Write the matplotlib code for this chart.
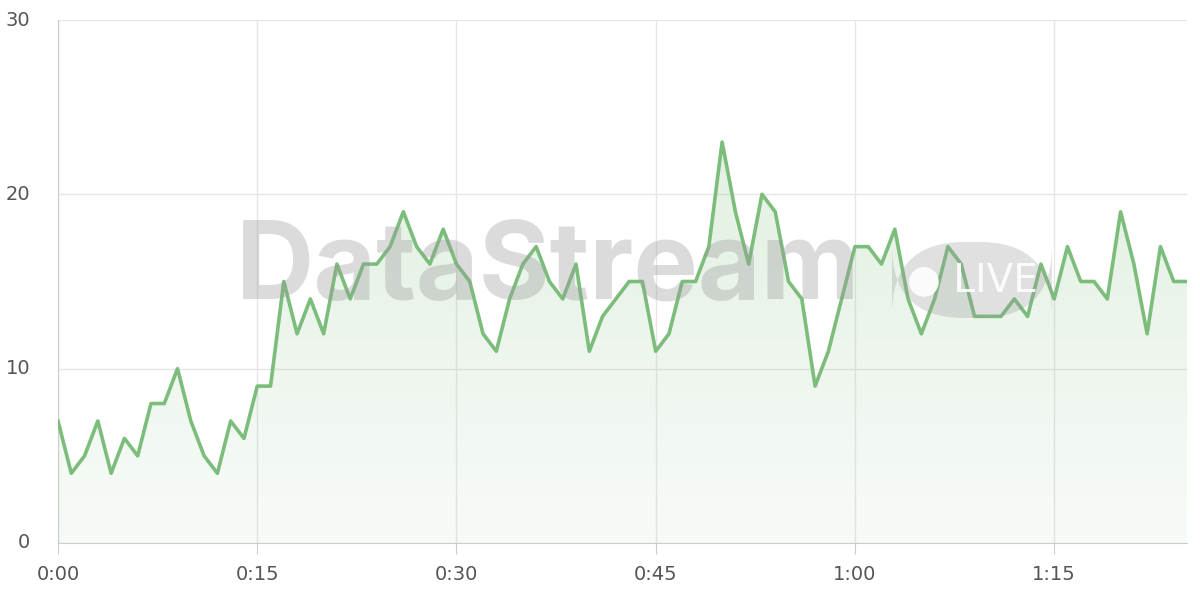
import matplotlib
matplotlib.use("Agg")
import matplotlib.pyplot as plt
import numpy as np
from matplotlib.patches import Polygon, FancyBboxPatch

values = [7,4,5,7,4,6,5,8,8,10,7,5,4,7,6,9,9,15,12,14,12,16,14,16,16,17,19,17,16,18,
          16,15,12,11,14,16,17,15,14,16,11,13,14,15,15,11,12,15,15,17,23,19,16,20,19,15,14,9,11,14,
          17,17,16,18,14,12,14,17,16,13,13,13,14,13,16,14,17,15,15,14,19,16,12,17,15,15]
minutes = list(range(len(values)))
xtick_pos = [0, 15, 30, 45, 60, 75]
xtick_labels = ["0:00", "0:15", "0:30", "0:45", "1:00", "1:15"]
yticks = [0, 10, 20, 30]

fig = plt.figure(figsize=(12, 6), dpi=100)
ax = fig.add_axes([58/1200, 57/600, (1187-58)/1200, (543-20)/600])
ax.set_xlim(0, len(values)-1)
ax.set_ylim(0, 30)

green = "#7cbd7c"
ax.plot(minutes, values, color=green, lw=2.6, zorder=5)

n = 256
alpha = np.linspace(0.06, 0.22, n)[::-1]
img = np.zeros((n, 1, 4))
img[..., 0] = 0.49; img[..., 1] = 0.74; img[..., 2] = 0.49
img[:, 0, 3] = alpha
im = ax.imshow(img, aspect="auto", extent=[0, len(values)-1, 0, max(values)],
               origin="upper", zorder=2, interpolation="bilinear")
poly = Polygon(list(zip(minutes, values)) + [(len(values)-1, 0), (0, 0)], closed=True,
               transform=ax.transData, facecolor="none", edgecolor="none")
ax.add_patch(poly)
im.set_clip_path(poly)

fig.text(548/1200, 1 - 270/600, "DataStream", ha="center", va="center",
         fontsize=78, fontweight="bold", color="#999999", alpha=0.35, zorder=4,
         family="Inter")
badge = FancyBboxPatch((892/1200, 1 - 318/600), 160/1200, 76/600,
                       boxstyle="round,pad=0,rounding_size=0.06", transform=fig.transFigure,
                       fc="#999999", ec="none", alpha=0.3, zorder=4, mutation_aspect=2)
fig.add_artist(badge)
fig.text(972/1200, 1 - 280/600, "● LIVE", ha="center", va="center",
         fontsize=28, color="white", alpha=0.9, zorder=4)

ax.set_xticks(xtick_pos)
ax.set_xticklabels(xtick_labels)
ax.set_yticks(yticks)
ax.grid(True, color="#e6e6e6", lw=1)
ax.set_axisbelow(True)
for s in ["top", "right"]:
    ax.spines[s].set_visible(False)
for s in ["left", "bottom"]:
    ax.spines[s].set_color("#cccccc")
ax.tick_params(colors="#555555", labelsize=14, length=8, color="#cccccc", pad=8)
ax.tick_params(axis="y", length=0, pad=20)
for t in ax.get_yticklabels():
    t.set_verticalalignment("center")
fig.savefig("out.png")
